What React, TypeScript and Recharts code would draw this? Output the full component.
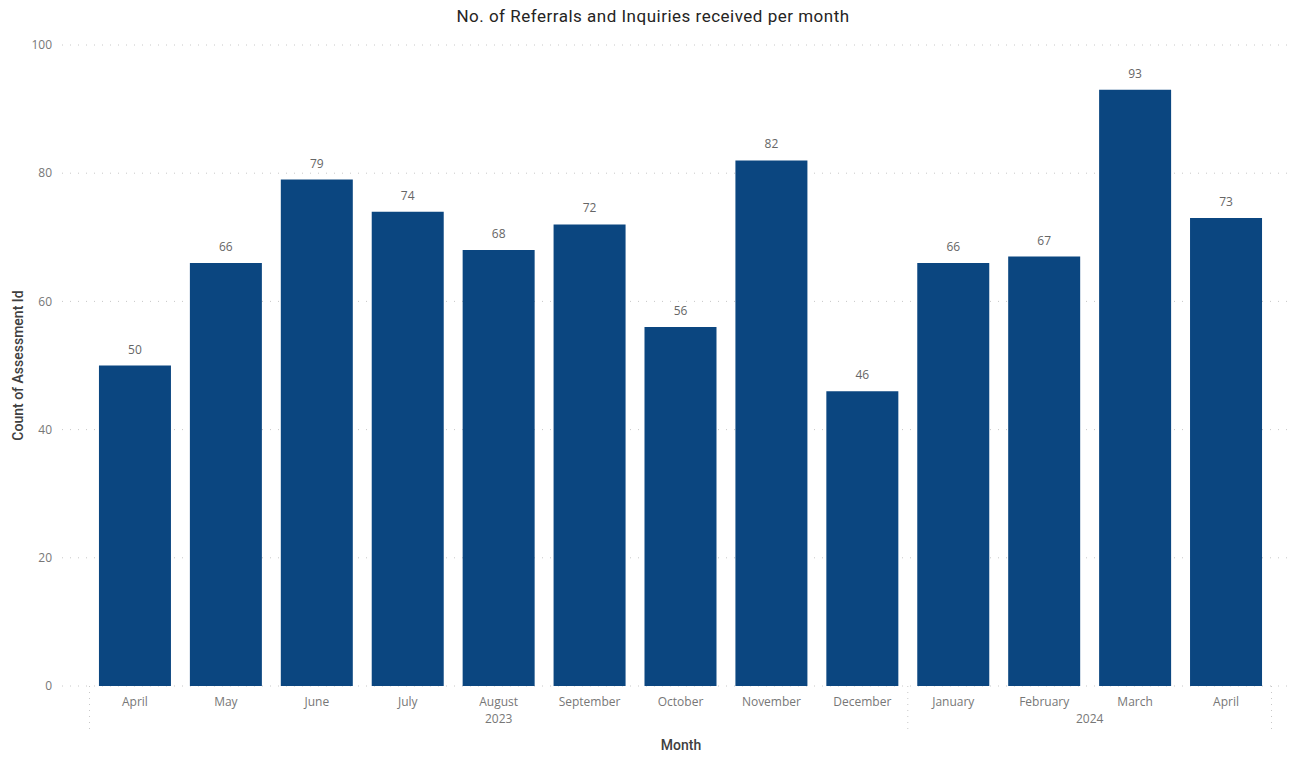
import React from 'react';
import { BarChart, Bar, XAxis, YAxis, CartesianGrid, LabelList } from 'recharts';

const months = ['April', 'May', 'June', 'July', 'August', 'September', 'October', 'November', 'December', 'January', 'February', 'March', 'April'];
const years = ['2023', '2023', '2023', '2023', '2023', '2023', '2023', '2023', '2023', '2024', '2024', '2024', '2024'];
const referrals = [50, 66, 79, 74, 68, 72, 56, 82, 46, 66, 67, 93, 73];
const yTicks = [0, 20, 40, 60, 80, 100];

const data = months.map((m, i) => ({ key: `${years[i]}-${i}`, month: m, year: years[i], idx: i, value: referrals[i] }));

// year groups (start/end index) for the second level of the axis
const yearGroups: { year: string; start: number; end: number }[] = [];
years.forEach((y, i) => {
  const last = yearGroups[yearGroups.length - 1];
  if (last && last.year === y) last.end = i + 1;
  else yearGroups.push({ year: y, start: i, end: i + 1 });
});
const boundaries = Array.from(new Set(yearGroups.flatMap((g) => [g.start, g.end])));
const centers = yearGroups.map((g) => (g.start + g.end) / 2);
const yearTicks = [...boundaries, ...centers].sort((a, b) => a - b);

const tickFont = { fontFamily: '"Open Sans", sans-serif', fontSize: 12, fill: '#777' };
const labelFont = { fontFamily: 'Roboto, sans-serif', fontSize: 14, fill: '#404040', fontWeight: 500 };
const pad = { left: 27.5, right: 18.5 };

const YearTick = (props: any) => {
  const { x, y, payload } = props;
  const v = payload.value;
  if (boundaries.includes(v)) {
    return <line x1={x} x2={x} y1={y - 20} y2={y + 26} stroke="#c8c8c8" strokeDasharray="1 5" />;
  }
  const g = yearGroups.find((gr) => (gr.start + gr.end) / 2 === v);
  return (
    <text x={x} y={y + 17} textAnchor="middle" {...tickFont}>
      {g ? g.year : ''}
    </text>
  );
};

export default function App() {
  return (
    <div style={{ position: 'absolute', left: 0, top: 0, width: 1292, height: 758, background: '#fff' }}>
      <div
        style={{
          position: 'absolute',
          top: 6,
          left: 0,
          width: 1306,
          textAlign: 'center',
          fontFamily: 'Roboto, sans-serif',
          fontSize: 17,
          letterSpacing: 0.5,
          color: '#252423',
        }}
      >
        No. of Referrals and Inquiries received per month
      </div>
      <BarChart
        width={1292}
        height={758}
        data={data}
        margin={{ top: 45, right: 2, left: 0, bottom: 4 }}
        barCategoryGap="10.4%"
      >
        <CartesianGrid vertical={false} stroke="#c8c8c8" strokeDasharray="1 7" />
        <XAxis
          dataKey="key"
          padding={pad}
          axisLine={false}
          tickLine={false}
          tickSize={0}
          tickMargin={11}
          height={20}
          interval={0}
          tick={tickFont}
          tickFormatter={(v: string, i: number) => months[i] ?? v}
        />
        <XAxis
          xAxisId="year"
          dataKey="idx"
          type="number"
          domain={[0, months.length]}
          ticks={yearTicks}
          padding={pad}
          axisLine={false}
          tickLine={false}
          tickSize={0}
          tickMargin={0}
          height={48}
          interval={0}
          tick={<YearTick />}
          label={{ value: 'Month', position: 'insideBottom', offset: 4, dx: 5, style: labelFont }}
        />
        <YAxis
          domain={[0, 100]}
          ticks={yTicks}
          width={62}
          axisLine={false}
          tickLine={false}
          tickSize={0}
          tickMargin={10}
          tick={tickFont}
          label={{
            value: 'Count of Assessment Id',
            angle: -90,
            position: 'insideLeft',
            offset: 18,
            style: { ...labelFont, textAnchor: 'middle' },
          }}
        />
        <Bar dataKey="value" fill="#0b4680" isAnimationActive={false}>
          <LabelList dataKey="value" position="top" offset={12} style={{ fontFamily: '"Open Sans", sans-serif', fontSize: 12, fill: '#666' }} />
        </Bar>
      </BarChart>
    </div>
  );
}
